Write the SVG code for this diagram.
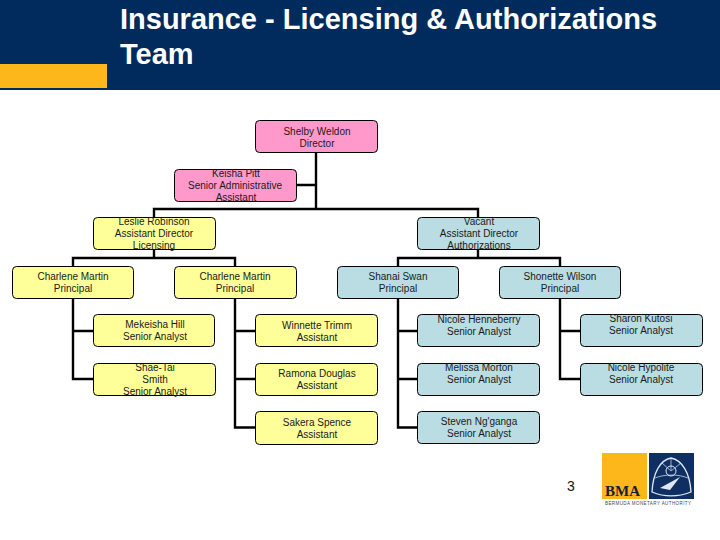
<svg xmlns="http://www.w3.org/2000/svg" width="720" height="540" viewBox="0 0 720 540">
<style>
text{font-family:"Liberation Sans",Arial,sans-serif}
.t{font-size:10px;fill:#1a1a1a;text-anchor:middle}
.n{stroke:#000;stroke-width:1}
.p{fill:#ff99cc}.y{fill:#ffff99}.b{fill:#b9dde3}
.c{fill:none;stroke:#000;stroke-width:2.400}
.title{font-size:29px;font-weight:bold;fill:#fff}
</style>
<rect width="720" height="540" fill="#fff"/>
<g id="header">
<rect width="720" height="90" fill="#002b5c"/>
<rect x="0" y="64" width="107" height="24" fill="#fdb71a"/>
<text class="title" x="120" y="29">Insurance - Licensing &amp; Authorizations</text>
<text class="title" x="120" y="64">Team</text>
</g>
<g id="connectors">
<path class="c" d="M316 152V209M296 185H316M154 217V209H478V217"/>
<path class="c" d="M154 249V258M73 266V258H235V266M478 249V258M398 266V258H560V266"/>
<path class="c" d="M73 298V379H93M73 331H93"/>
<path class="c" d="M235 298V427.500H255M235 331H255M235 379H255"/>
<path class="c" d="M398 298V427.500H417M398 331H417M398 379H417"/>
<path class="c" d="M560 298V379H580M560 331H580"/>
</g>
<g id="shelby"><rect class="n p" x="255.500" y="120.500" width="122" height="32" rx="4"/><text class="t" x="317" y="135">Shelby Weldon</text><text class="t" x="317" y="147">Director</text></g>
<g id="keisha"><rect class="n p" x="174.500" y="169.500" width="122" height="32" rx="4"/><text class="t" x="236" y="177">Keisha Pitt</text><text class="t" x="235" y="189">Senior Administrative</text><text class="t" x="236" y="201">Assistant</text></g>
<g id="leslie"><rect class="n y" x="93.500" y="217.500" width="122" height="32" rx="4"/><text class="t" x="154" y="225">Leslie Robinson</text><text class="t" x="154" y="237">Assistant Director</text><text class="t" x="154" y="249">Licensing</text></g>
<g id="vacant"><rect class="n b" x="417.500" y="217.500" width="122" height="32" rx="4"/><text class="t" x="479" y="225">Vacant</text><text class="t" x="479" y="237">Assistant Director</text><text class="t" x="479" y="249">Authorizations</text></g>
<g id="charlene1"><rect class="n y" x="12.500" y="266.500" width="121" height="32" rx="4"/><text class="t" x="73" y="280">Charlene Martin</text><text class="t" x="73" y="292">Principal</text></g>
<g id="charlene2"><rect class="n y" x="174.500" y="266.500" width="122" height="32" rx="4"/><text class="t" x="235" y="280">Charlene Martin</text><text class="t" x="235" y="292">Principal</text></g>
<g id="shanai"><rect class="n b" x="337.500" y="266.500" width="121" height="32" rx="4"/><text class="t" x="398" y="280">Shanai Swan</text><text class="t" x="398" y="292">Principal</text></g>
<g id="shonette"><rect class="n b" x="499.500" y="266.500" width="121" height="32" rx="4"/><text class="t" x="560" y="280">Shonette Wilson</text><text class="t" x="560" y="292">Principal</text></g>
<g id="mekeisha"><rect class="n y" x="93.500" y="314.500" width="121" height="32" rx="4"/><text class="t" x="155" y="328">Mekeisha Hill</text><text class="t" x="155" y="340">Senior Analyst</text></g>
<g id="shaetai"><rect class="n y" x="93.500" y="363.500" width="122" height="32" rx="4"/><text class="t" x="155" y="371">Shae-Tai</text><text class="t" x="155" y="383">Smith</text><text class="t" x="155" y="395">Senior Analyst</text></g>
<g id="winnette"><rect class="n y" x="255.500" y="314.500" width="122" height="32" rx="4"/><text class="t" x="317" y="329">Winnette Trimm</text><text class="t" x="317" y="341">Assistant</text></g>
<g id="ramona"><rect class="n y" x="255.500" y="363.500" width="122" height="32" rx="4"/><text class="t" x="317" y="377">Ramona Douglas</text><text class="t" x="317" y="389">Assistant</text></g>
<g id="sakera"><rect class="n y" x="255.500" y="411.500" width="122" height="33" rx="4"/><text class="t" x="317" y="426">Sakera Spence</text><text class="t" x="317" y="438">Assistant</text></g>
<g id="nicoleh"><rect class="n b" x="417.500" y="314.500" width="122" height="32" rx="4"/><text class="t" x="479" y="323">Nicole Henneberry</text><text class="t" x="479" y="335">Senior Analyst</text></g>
<g id="melissa"><rect class="n b" x="417.500" y="363.500" width="122" height="32" rx="4"/><text class="t" x="479" y="371">Melissa Morton</text><text class="t" x="479" y="383">Senior Analyst</text></g>
<g id="steven"><rect class="n b" x="417.500" y="411.500" width="122" height="32" rx="4"/><text class="t" x="479" y="425">Steven Ng'ganga</text><text class="t" x="479" y="437">Senior Analyst</text></g>
<g id="sharon"><rect class="n b" x="580.500" y="314.500" width="122" height="32" rx="4"/><text class="t" x="641" y="322">Sharon Kutosi</text><text class="t" x="641" y="334">Senior Analyst</text></g>
<g id="nicoleh2"><rect class="n b" x="580.500" y="363.500" width="122" height="32" rx="4"/><text class="t" x="641" y="371">Nicole Hypolite</text><text class="t" x="641" y="383">Senior Analyst</text></g>
<text x="571" y="491" font-size="14" fill="#111" text-anchor="middle">3</text>
<g id="logo">
<rect x="602" y="453" width="45" height="46" fill="#fdb71a"/>
<rect x="649" y="453" width="45" height="46" fill="#0f2f63"/>
<text x="605" y="496" font-size="15" font-weight="bold" fill="#1a1a3a" style="font-family:'Liberation Serif',serif">BMA</text>
<path d="M671 458C682 460 690 473 691 492C678 497 664 497 652 492C653 473 660 460 671 458Z" fill="none" stroke="#dfe8f2" stroke-width="1.300"/>
<path d="M671 458V470M655 478C665 474 678 474 688 478M662 463L671 471L681 463" fill="none" stroke="#dfe8f2" stroke-width=".7"/>
<circle cx="671" cy="471" r="5" fill="none" stroke="#dfe8f2" stroke-width="1"/>
<path d="M660 488L680 477L670 490Z" fill="#dfe8f2"/>
<text x="605" y="505" font-size="4.500" fill="#445" textLength="86">BERMUDA MONETARY AUTHORITY</text>
</g>
</svg>
